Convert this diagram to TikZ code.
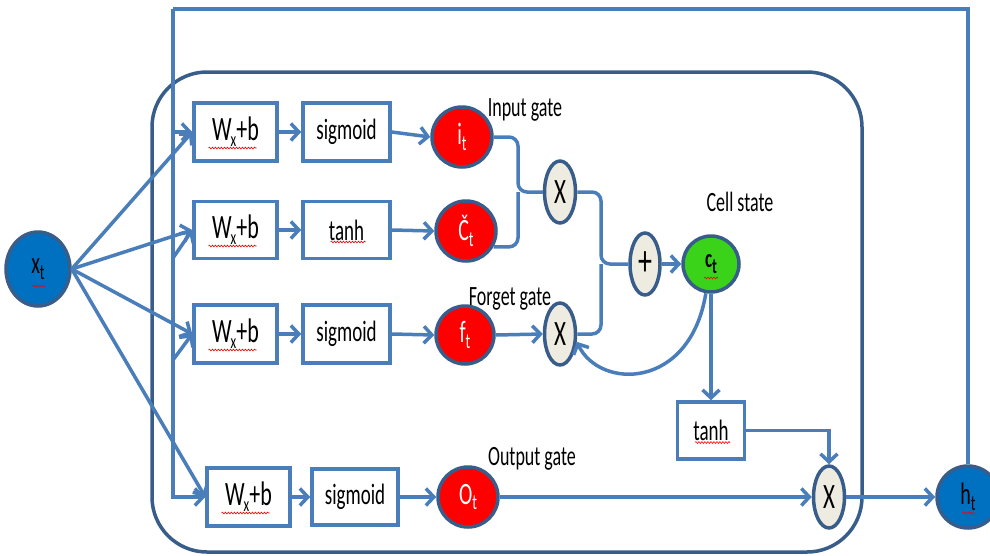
\documentclass[tikz,border=0pt]{standalone}
\usepackage{fontspec}
\setmainfont{Carlito}
\usepackage{graphicx}
\usetikzlibrary{shapes.geometric,arrows.meta,decorations.pathmorphing}
\definecolor{lnb}{HTML}{4A7EBB}
\definecolor{bord}{HTML}{385D8A}
\definecolor{gred}{HTML}{FF0000}
\definecolor{cgreen}{HTML}{3AD31A}
\definecolor{optan}{HTML}{EEECE1}
\definecolor{bfill}{HTML}{0070C0}
\newcommand{\st}[1]{\scalebox{1}[1.55]{#1}}
\newcommand{\wxb}{\st{\fontsize{22}{22}\selectfont W\kern-1pt\raisebox{-4pt}{\fontsize{13}{13}\selectfont x}\kern0pt+b}}
\newcommand{\sub}[1]{\raisebox{-3.5pt}{\fontsize{14}{14}\selectfont #1}}
\begin{document}
\begin{tikzpicture}[x=1pt,y=-1pt,
  ln/.style={draw=lnb, line width=3.5pt},
  arr/.style={ln, -{Straight Barb[length=8pt,width=17pt]}},
  boxn/.style={rectangle, draw=lnb, line width=3.5pt, fill=white, minimum height=58pt, inner sep=0pt, font=\fontsize{19}{20}\selectfont},
  gate/.style={circle, draw=bord, line width=3.5pt, fill=gred, minimum size=60pt, inner sep=0pt, text=white, font=\fontsize{20}{20}\selectfont},
  opn/.style={ellipse, draw=bord, line width=3.5pt, fill=optan, minimum width=31pt, minimum height=62pt, inner sep=0pt, font=\fontsize{23}{23}\selectfont},
  bluen/.style={draw=bord, line width=3.5pt, fill=bfill, inner sep=0pt, font=\fontsize{20}{20}\selectfont},
  lbl/.style={inner sep=0pt, font=\fontsize{18}{18}\selectfont},
  squig/.style={draw=red, line width=0.6pt, decorate, decoration={snake, amplitude=0.9pt, segment length=3pt}}
]
\useasboundingbox (0,0) rectangle (990,555);
% outer rounded frame
\draw[draw=bord, line width=3.5pt, rounded corners=55pt] (152,72) rectangle (862,552);

% boxes
\node[boxn, minimum width=83pt] (b1) at (235.5,132) {\wxb};
\node[boxn, minimum width=87pt] (s1) at (346.5,132) {\st{sigmoid}};
\node[boxn, minimum width=83pt, minimum height=57pt] (b2) at (235.5,230) {\wxb};
\node[boxn, minimum width=87pt, minimum height=57pt] (s2) at (346.5,230) {\st{tanh}};
\node[boxn, minimum width=83pt] (b3) at (235.5,334) {\wxb};
\node[boxn, minimum width=87pt] (s3) at (346.5,334) {\st{sigmoid}};
\node[boxn, minimum width=83pt] (b4) at (248.5,497) {\wxb};
\node[boxn, minimum width=86pt, minimum height=56pt] (s4) at (355,497) {\st{sigmoid}};
\node[boxn, minimum width=67pt, minimum height=57pt] (tb) at (711,430.5) {\st{tanh}};

% gates
\node[gate] (it) at (462,137) {\st{i\sub{t}}};
\node[gate] (gc) at (466,231) {\st{Č\sub{t}}};
\node[gate, minimum size=58pt] (ft) at (465,335) {\st{f\sub{t}}};
\node[gate] (ot) at (468,497) {\st{O\sub{t}}};

% operations
\node[opn] (m1) at (560,192) {\st{X}};
\node[opn] (m2) at (560,334) {\st{X}};
\node[opn, minimum width=30pt, font=\fontsize{28}{28}\selectfont] (pl) at (645,264) {\st{+}};
\node[opn] (m3) at (829,497) {\st{X}};

% cell state, input, output
\node[circle, draw=bord, line width=3.5pt, fill=cgreen, minimum size=56pt, inner sep=0pt, font=\fontsize{17}{17}\selectfont\bfseries] (cs) at (711,264) {\st{c\sub{t}}};
\node[bluen, ellipse, minimum width=64pt, minimum height=74pt] (xt) at (38,269) {\st{x\sub{t}}};
\node[bluen, circle, minimum size=62pt] (ht) at (968,497) {\st{h\sub{t}}};

% labels
\node[lbl] (lin) at (525,110) {\st{Input gate}};
\node[lbl] (lcs) at (740,202) {\st{Cell state}};
\node[lbl] (lfg) at (510,299) {\st{Forget gate}};
\node[lbl] (log) at (532,459) {\st{Output gate}};

% box chains
\draw[arr] (b1) -- (s1);
\draw[arr] (b2) -- (s2);
\draw[arr] (b3) -- (s3);
\draw[arr] (b4) -- (s4);
\draw[arr] (s1.east) -- (it.west);
\draw[arr] (s2.east) -- (gc.west);
\draw[arr] (s3.east) -- (ft.west);
\draw[arr] (s4.east) -- (ot.west);

% input x_t fan
\draw[arr] (xt.east) -- (b1.west);
\draw[arr] (xt.east) -- (b2.west);
\draw[arr] (xt.east) -- (b3.west);
\draw[arr] (xt.east) -- (b4.west);

% feedback h_t
\coordinate (tl) at (173,9);
\coordinate (f2) at (173,258);
\coordinate (f3) at (173,360);
\draw[ln] (ht.north) |- (tl);
\draw[arr] (tl) |- (b4.west);
\draw[arr] (tl |- b1.west) -- (b1.west);
\draw[arr] (f2) -- (b2.west);
\draw[arr] (f3) -- (b3.west);

% gate combination
\coordinate (j1) at (518,192);
\coordinate (j2) at (601,264);
\draw[ln, rounded corners=9pt] (it.east) -| (j1) -- (m1.west);
\draw[ln, rounded corners=9pt] (gc.-30) -| (j1);
\draw[arr] (ft.east) -- (m2.west);
\draw[ln, rounded corners=9pt] (m1.east) -| (j2) -- (pl.west);
\draw[ln, rounded corners=9pt] (m2.east) -| (j2);
\draw[arr] (pl.east) -- (cs.west);
\draw[arr] (cs.-100) .. controls (690,390) and (600,390) .. (m2.-25);
\draw[arr] (cs.south) -- (tb.north);
\draw[arr] (tb.east) -| (m3.north);
\draw[arr] (ot.east) -- (m3.west);
\draw[arr] (m3.east) -- (ht.west);

% spell-check squiggles
\foreach \n in {b1,b2,b3,b4}{
  \draw[squig] ([xshift=-27pt,yshift=-16pt]\n.center) -- ++(48,0);
}
\draw[squig] ([xshift=-16pt,yshift=-12pt]tb.center) -- ++(35,0);
\draw[squig] ([xshift=-16pt,yshift=-12pt]s2.center) -- ++(35,0);
\draw[squig] ([xshift=-6pt,yshift=-17pt]xt.center) -- ++(13,0);
\draw[squig] ([xshift=-6pt,yshift=-16pt]ht.center) -- ++(13,0);
\draw[squig] ([xshift=-7pt,yshift=-14pt]cs.center) -- ++(14,0);
\end{tikzpicture}
\end{document}
